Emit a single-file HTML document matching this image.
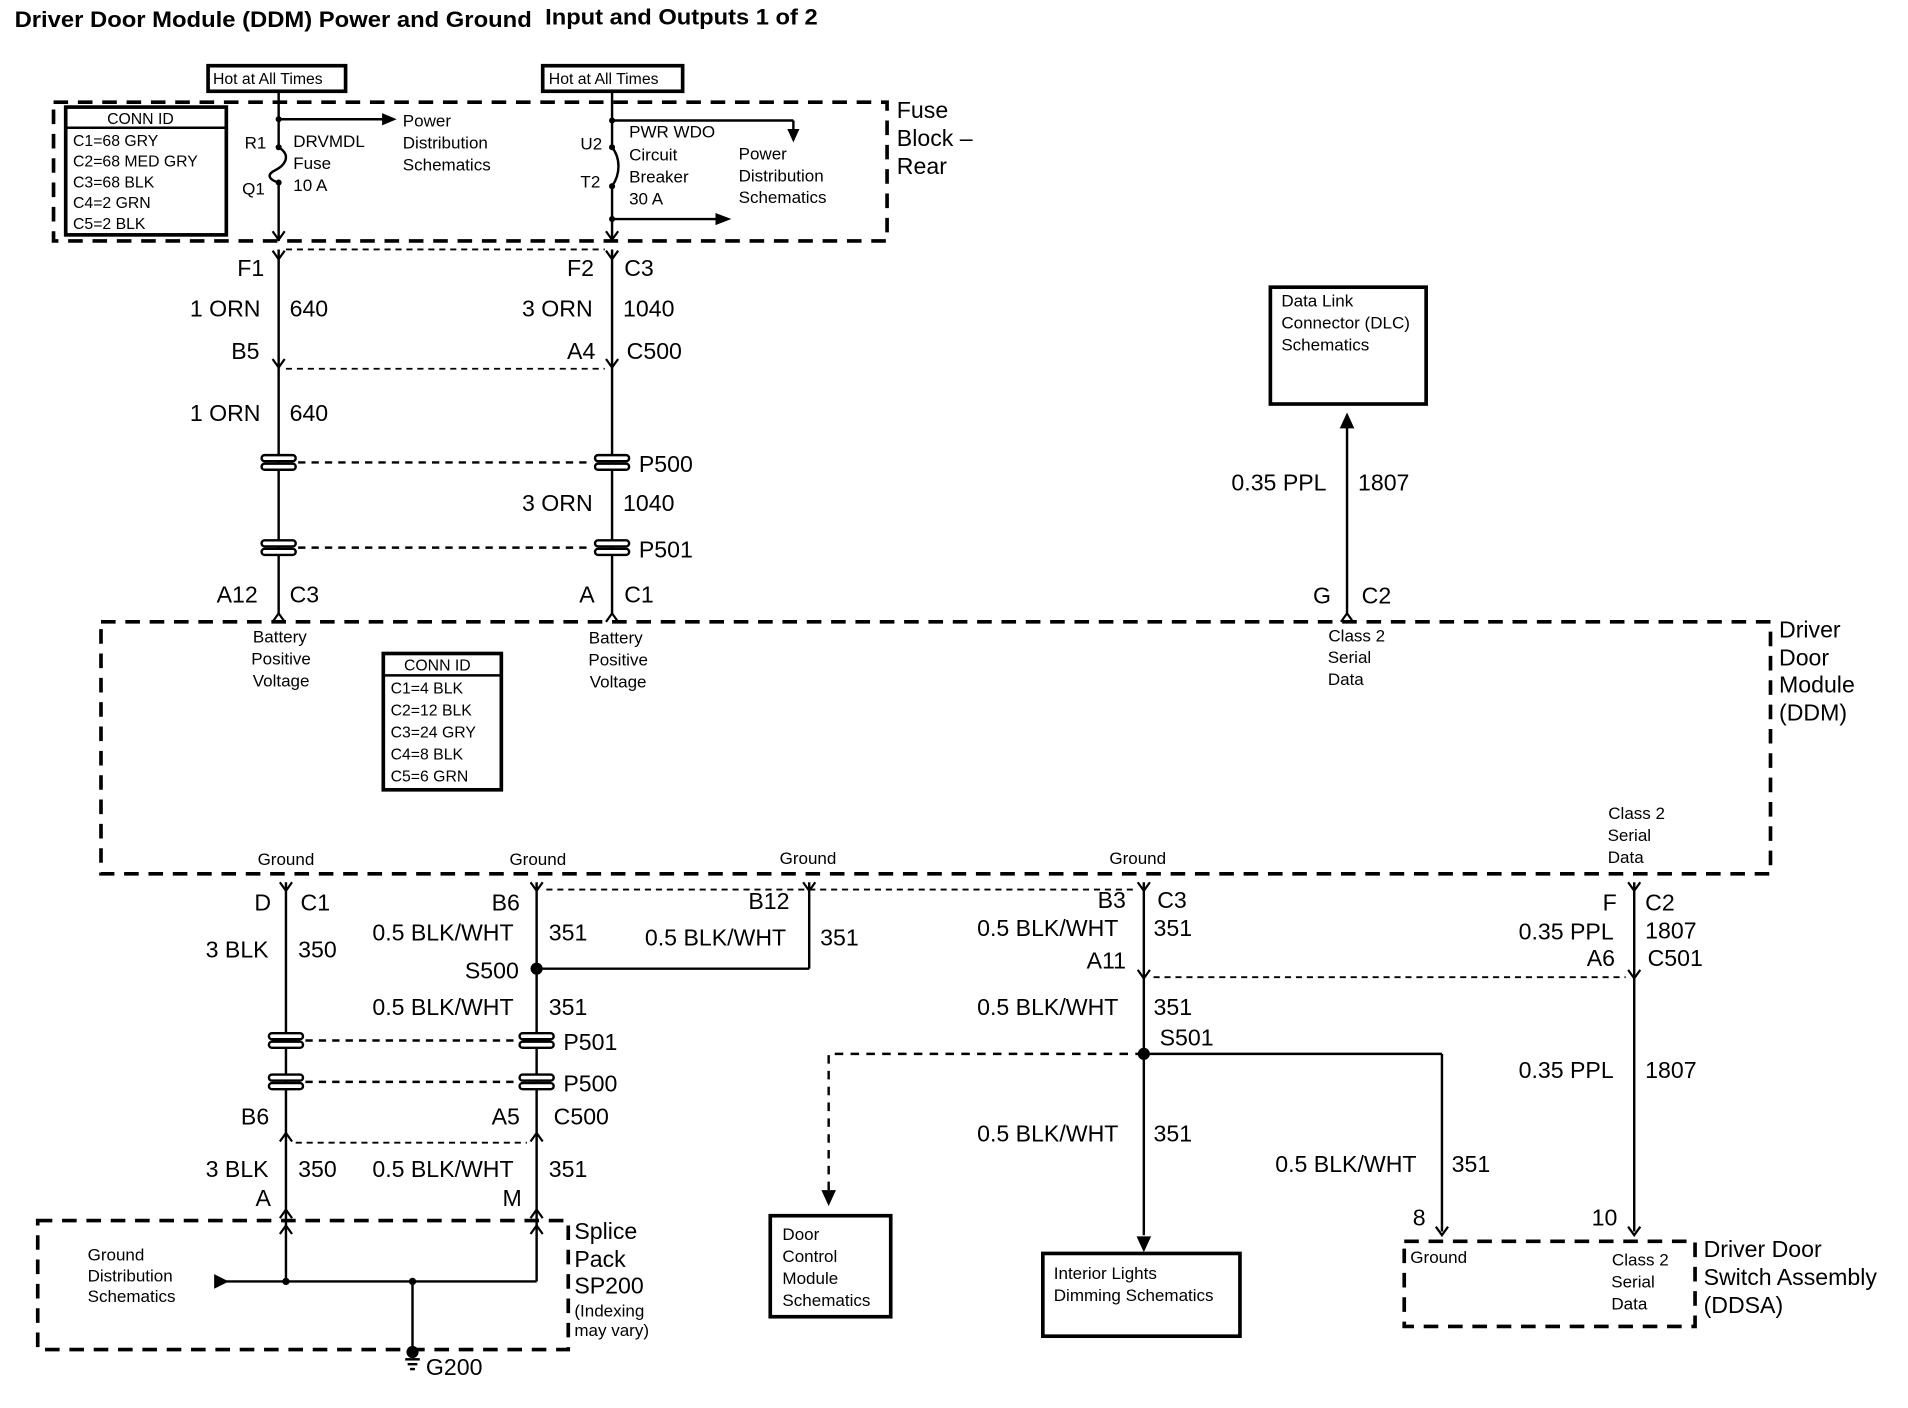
<!DOCTYPE html>
<html><head><style>
html,body{margin:0;padding:0;background:#fff;}
svg{display:block}
text{font-family:"Liberation Sans",sans-serif;fill:#000}
.t{font-size:14px}
.m{font-size:19px}
.s{font-size:13px}
</style></head><body>
<svg width="1908" height="1408" viewBox="0 0 1568 1157" preserveAspectRatio="none" xmlns="http://www.w3.org/2000/svg">
<defs>
<g id="fem"><path d="M-5,-4 L0,3 L5,-4" fill="none" stroke="#000" stroke-width="1.8"/></g>
<g id="male"><path d="M-5,4 L0,-3 L5,4" fill="none" stroke="#000" stroke-width="1.8"/></g>
<g id="inl"><rect x="-14" y="-6" width="28" height="5" rx="2.5" fill="#fff" stroke="#000" stroke-width="2"/><rect x="-14" y="1" width="28" height="5" rx="2.5" fill="#fff" stroke="#000" stroke-width="2"/></g>
</defs>
<text x="12" y="22" style="font-size:18px;font-weight:bold" textLength="425" lengthAdjust="spacingAndGlyphs">Driver Door Module (DDM) Power and  Ground</text>
<text x="448" y="20" style="font-size:18px;font-weight:bold" textLength="224" lengthAdjust="spacingAndGlyphs">Input and Outputs 1 of 2</text>

<g fill="none" stroke="#000">
<rect x="171" y="54" width="113" height="21" stroke-width="3"/>
<rect x="446" y="54" width="115" height="21" stroke-width="3"/>
<rect x="44" y="84" width="685" height="114" stroke-width="3" stroke-dasharray="12,8"/>
<rect x="54" y="88" width="132" height="105" stroke-width="3"/>
<line x1="54" y1="105" x2="186" y2="105" stroke-width="2"/>
<line x1="229" y1="75" x2="229" y2="121" stroke-width="2"/>
<path d="M229,121 C240,128 234,136 226,140 C218,144 222,148 229,150" stroke-width="2"/>
<line x1="229" y1="150" x2="229" y2="198" stroke-width="2"/>
<line x1="229" y1="98" x2="316" y2="98" stroke-width="2"/>
<line x1="503" y1="75" x2="503" y2="121" stroke-width="2"/>
<path d="M503,121 C510,130 510,143 503,153" stroke-width="2"/>
<line x1="503" y1="153" x2="503" y2="198" stroke-width="2"/>
<line x1="503" y1="99" x2="652" y2="99" stroke-width="2"/>
<line x1="652" y1="99" x2="652" y2="108" stroke-width="2"/>
<line x1="503" y1="180" x2="590" y2="180" stroke-width="2"/>
</g>
<g fill="#000">
<polygon points="314,93 326,98 314,103"/>
<polygon points="647,106 657,106 652,117"/>
<polygon points="588,175 601,180 588,185"/>
<circle cx="229" cy="98" r="2.5"/><circle cx="229" cy="121" r="2.5"/><circle cx="229" cy="150" r="2.5"/>
<circle cx="503" cy="99" r="2.5"/><circle cx="503" cy="121" r="2.5"/><circle cx="503" cy="153" r="2.5"/><circle cx="503" cy="180" r="2.5"/>
</g>
<use href="#fem" x="229" y="194"/><use href="#fem" x="503" y="194"/>
<text x="175" y="69" class="s">Hot at All Times</text>
<text x="451" y="69" class="s">Hot at All Times</text>
<text x="88" y="102" class="s">CONN ID</text>
<text x="60" y="120" class="s">C1=68 GRY</text>
<text x="60" y="137" class="s">C2=68 MED GRY</text>
<text x="60" y="154" class="s">C3=68 BLK</text>
<text x="60" y="171" class="s">C4=2 GRN</text>
<text x="60" y="188" class="s">C5=2 BLK</text>
<text x="201" y="122" class="t">R1</text><text x="199" y="160" class="t">Q1</text>
<text x="241" y="121" class="t">DRVMDL</text><text x="241" y="139" class="t">Fuse</text><text x="241" y="157" class="t">10 A</text>
<text x="331" y="104" class="t">Power</text><text x="331" y="122" class="t">Distribution</text><text x="331" y="140" class="t">Schematics</text>
<text x="477" y="123" class="t">U2</text><text x="477" y="154" class="t">T2</text>
<text x="517" y="113" class="t">PWR WDO</text><text x="517" y="132" class="t">Circuit</text><text x="517" y="150" class="t">Breaker</text><text x="517" y="168" class="t">30 A</text>
<text x="607" y="131" class="t">Power</text><text x="607" y="149" class="t">Distribution</text><text x="607" y="167" class="t">Schematics</text>
<text x="737" y="97" class="m">Fuse</text><text x="737" y="120" class="m">Block –</text><text x="737" y="143" class="m">Rear</text>

<g fill="none" stroke="#000" stroke-width="2">
<line x1="229" y1="205" x2="229" y2="505"/>
<line x1="503" y1="205" x2="503" y2="505"/>
<line x1="235" y1="205" x2="497" y2="205" stroke-dasharray="5,4" stroke-width="1.5"/>
<line x1="235" y1="303" x2="497" y2="303" stroke-dasharray="5,4" stroke-width="1.5"/>
<line x1="245" y1="380" x2="487" y2="380" stroke-dasharray="6,5"/>
<line x1="245" y1="450" x2="487" y2="450" stroke-dasharray="6,5"/>
<line x1="1107" y1="345" x2="1107" y2="505"/>
<rect x="1044" y="236" width="128" height="96" stroke-width="3"/>
</g>
<use href="#fem" x="229" y="210"/><use href="#fem" x="503" y="210"/>
<use href="#fem" x="229" y="299"/><use href="#fem" x="503" y="299"/>
<use href="#inl" x="229" y="380"/><use href="#inl" x="503" y="380"/>
<use href="#inl" x="229" y="450"/><use href="#inl" x="503" y="450"/>
<use href="#male" x="229" y="507"/><use href="#male" x="503" y="507"/><use href="#male" x="1107" y="507"/>
<polygon points="1101,352 1107,339 1113,352" fill="#000"/>
<text x="195" y="227" class="m">F1</text><text x="466" y="227" class="m">F2</text><text x="513" y="227" class="m">C3</text>
<text x="156" y="260" class="m">1 ORN</text><text x="238" y="260" class="m">640</text>
<text x="429" y="260" class="m">3 ORN</text><text x="512" y="260" class="m">1040</text>
<text x="190" y="295" class="m">B5</text><text x="466" y="295" class="m">A4</text><text x="515" y="295" class="m">C500</text>
<text x="156" y="346" class="m">1 ORN</text><text x="238" y="346" class="m">640</text>
<text x="525" y="388" class="m">P500</text>
<text x="429" y="420" class="m">3 ORN</text><text x="512" y="420" class="m">1040</text>
<text x="525" y="458" class="m">P501</text>
<text x="178" y="495" class="m">A12</text><text x="238" y="495" class="m">C3</text>
<text x="476" y="495" class="m">A</text><text x="513" y="495" class="m">C1</text>
<text x="1053" y="252" class="t">Data Link</text><text x="1053" y="270" class="t">Connector (DLC)</text><text x="1053" y="288" class="t">Schematics</text>
<text x="1012" y="403" class="m">0.35 PPL</text><text x="1116" y="403" class="m">1807</text>
<text x="1079" y="496" class="m">G</text><text x="1119" y="496" class="m">C2</text>

<rect x="83" y="511" width="1372" height="207" fill="none" stroke="#000" stroke-width="3" stroke-dasharray="12,8"/>
<text x="1462" y="524" class="m">Driver</text><text x="1462" y="547" class="m">Door</text><text x="1462" y="569" class="m">Module</text><text x="1462" y="592" class="m">(DDM)</text>
<g class="t" text-anchor="middle">
<text x="230" y="528">Battery</text><text x="231" y="546">Positive</text><text x="231" y="564">Voltage</text>
<text x="506" y="529">Battery</text><text x="508" y="547">Positive</text><text x="508" y="565">Voltage</text>
<text x="1115" y="527">Class 2</text><text x="1109" y="545">Serial</text><text x="1106" y="563">Data</text>
<text x="235" y="711">Ground</text><text x="442" y="711">Ground</text><text x="664" y="710">Ground</text><text x="935" y="710">Ground</text>
<text x="1345" y="673">Class 2</text><text x="1339" y="691">Serial</text><text x="1336" y="709">Data</text>
</g>
<rect x="315" y="537" width="97" height="112" fill="none" stroke="#000" stroke-width="3"/>
<line x1="315" y1="555" x2="412" y2="555" stroke="#000" stroke-width="2"/>
<text x="332" y="551" class="s">CONN ID</text>
<text x="321" y="570" class="s">C1=4 BLK</text><text x="321" y="588" class="s">C2=12 BLK</text><text x="321" y="606" class="s">C3=24 GRY</text><text x="321" y="624" class="s">C4=8 BLK</text><text x="321" y="642" class="s">C5=6 GRN</text>

<g fill="none" stroke="#000" stroke-width="2">
<line x1="235" y1="725" x2="235" y2="1053"/>
<line x1="441" y1="725" x2="441" y2="1053"/>
<line x1="441" y1="796" x2="665" y2="796"/><line x1="665" y1="796" x2="665" y2="725"/>
<line x1="940" y1="725" x2="940" y2="1015"/>
<line x1="1343" y1="725" x2="1343" y2="1012"/>
<line x1="940" y1="866" x2="1185" y2="866"/><line x1="1185" y1="866" x2="1185" y2="1012"/>
<path d="M940,866 L681,866 L681,980" stroke-dasharray="7,6"/>
<line x1="449" y1="731" x2="932" y2="731" stroke-dasharray="5,4" stroke-width="1.5"/>
<line x1="948" y1="803" x2="1336" y2="803" stroke-dasharray="5,4" stroke-width="1.5"/>
<line x1="251" y1="855" x2="425" y2="855" stroke-dasharray="6,5"/>
<line x1="251" y1="889" x2="425" y2="889" stroke-dasharray="6,5"/>
<line x1="243" y1="939" x2="433" y2="939" stroke-dasharray="5,4" stroke-width="1.5"/>
<rect x="31" y="1003" width="436" height="106" stroke-width="3" stroke-dasharray="12,8"/>
<line x1="185" y1="1053" x2="441" y2="1053"/>
<line x1="339" y1="1053" x2="339" y2="1110"/>
<line x1="333" y1="1117" x2="345" y2="1117"/><line x1="335" y1="1121" x2="343" y2="1121"/><line x1="337" y1="1125" x2="341" y2="1125"/>
<rect x="633" y="999" width="99" height="83" stroke-width="3"/>
<rect x="857" y="1030" width="162" height="68" stroke-width="3"/>
<rect x="1154" y="1020" width="239" height="70" stroke-width="3" stroke-dasharray="12,8"/>
</g>
<use href="#fem" x="235" y="729"/><use href="#fem" x="441" y="729"/><use href="#fem" x="665" y="729"/><use href="#fem" x="940" y="729"/><use href="#fem" x="1343" y="729"/>
<use href="#fem" x="940" y="801"/><use href="#fem" x="1343" y="801"/>
<use href="#inl" x="235" y="855"/><use href="#inl" x="441" y="855"/>
<use href="#inl" x="235" y="889"/><use href="#inl" x="441" y="889"/>
<use href="#male" x="235" y="934"/><use href="#male" x="441" y="934"/>
<use href="#male" x="235" y="997"/><use href="#male" x="441" y="997"/>
<use href="#male" x="235" y="1010"/><use href="#male" x="441" y="1010"/>
<use href="#fem" x="1185" y="1012"/><use href="#fem" x="1343" y="1012"/>
<g fill="#000">
<circle cx="441" cy="796" r="5"/><circle cx="940" cy="866" r="5"/>
<circle cx="235" cy="1053" r="3"/><circle cx="339" cy="1053" r="3"/><circle cx="339" cy="1111" r="5"/>
<polygon points="176,1047 188,1053 176,1059"/>
<polygon points="675,978 687,978 681,991"/>
<polygon points="934,1016 946,1016 940,1029"/>
</g>
<text x="209" y="748" class="m">D</text><text x="247" y="748" class="m">C1</text>
<text x="169" y="787" class="m">3 BLK</text><text x="245" y="787" class="m">350</text>
<text x="404" y="748" class="m">B6</text>
<text x="306" y="773" class="m">0.5 BLK/WHT</text><text x="451" y="773" class="m">351</text>
<text x="382" y="804" class="m">S500</text>
<text x="615" y="747" class="m">B12</text>
<text x="530" y="777" class="m">0.5 BLK/WHT</text><text x="674" y="777" class="m">351</text>
<text x="306" y="834" class="m">0.5 BLK/WHT</text><text x="451" y="834" class="m">351</text>
<text x="463" y="863" class="m">P501</text><text x="463" y="897" class="m">P500</text>
<text x="198" y="924" class="m">B6</text><text x="404" y="924" class="m">A5</text><text x="455" y="924" class="m">C500</text>
<text x="169" y="967" class="m">3 BLK</text><text x="245" y="967" class="m">350</text>
<text x="306" y="967" class="m">0.5 BLK/WHT</text><text x="451" y="967" class="m">351</text>
<text x="210" y="991" class="m">A</text><text x="413" y="991" class="m">M</text>
<text x="72" y="1036" class="t">Ground</text><text x="72" y="1053" class="t">Distribution</text><text x="72" y="1070" class="t">Schematics</text>
<text x="472" y="1018" class="m">Splice</text><text x="472" y="1041" class="m">Pack</text><text x="472" y="1063" class="m">SP200</text>
<text x="472" y="1082" class="t">(Indexing</text><text x="472" y="1098" class="t">may vary)</text>
<text x="350" y="1130" class="m">G200</text>
<text x="902" y="746" class="m">B3</text><text x="951" y="746" class="m">C3</text>
<text x="803" y="769" class="m">0.5 BLK/WHT</text><text x="948" y="769" class="m">351</text>
<text x="893" y="796" class="m">A11</text>
<text x="803" y="834" class="m">0.5 BLK/WHT</text><text x="948" y="834" class="m">351</text>
<text x="953" y="859" class="m">S501</text>
<text x="803" y="938" class="m">0.5 BLK/WHT</text><text x="948" y="938" class="m">351</text>
<text x="1048" y="963" class="m">0.5 BLK/WHT</text><text x="1193" y="963" class="m">351</text>
<text x="1161" y="1007" class="m">8</text><text x="1308" y="1007" class="m">10</text>
<text x="1317" y="748" class="m">F</text><text x="1352" y="748" class="m">C2</text>
<text x="1248" y="772" class="m">0.35 PPL</text><text x="1352" y="771" class="m">1807</text>
<text x="1304" y="794" class="m">A6</text><text x="1354" y="794" class="m">C501</text>
<text x="1248" y="886" class="m">0.35 PPL</text><text x="1352" y="886" class="m">1807</text>
<text x="643" y="1019" class="t">Door</text><text x="643" y="1037" class="t">Control</text><text x="643" y="1055" class="t">Module</text><text x="643" y="1073" class="t">Schematics</text>
<text x="866" y="1051" class="t">Interior Lights</text><text x="866" y="1069" class="t">Dimming Schematics</text>
<text x="1159" y="1038" class="t">Ground</text>
<g class="t" text-anchor="middle"><text x="1348" y="1040">Class 2</text><text x="1342" y="1058">Serial</text><text x="1339" y="1076">Data</text></g>
<text x="1400" y="1033" class="m">Driver Door</text><text x="1400" y="1056" class="m">Switch Assembly</text><text x="1400" y="1079" class="m">(DDSA)</text>
</svg>
</body></html>
